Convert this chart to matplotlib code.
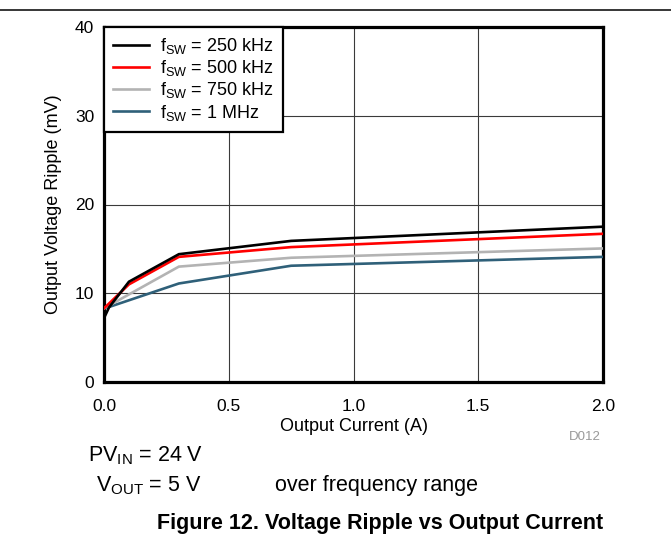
import matplotlib
matplotlib.use("Agg")
import matplotlib.pyplot as plt
from matplotlib.lines import Line2D

plt.rcParams['font.family'] = ['Liberation Sans', 'DejaVu Sans']

# ---- data ----
x_250 = [0.0, 0.02, 0.1, 0.3, 0.75, 2.0]
y_250 = [7.2, 8.4, 11.3, 14.4, 15.9, 17.5]
x_500 = [0.0, 0.1, 0.3, 0.75, 2.0]
y_500 = [8.3, 11.0, 14.1, 15.2, 16.7]
x_750 = [0.0, 0.3, 0.75, 2.0]
y_750 = [8.3, 13.0, 14.0, 15.05]
x_1m = [0.0, 0.02, 0.3, 0.75, 2.0]
y_1m = [8.3, 8.45, 11.1, 13.1, 14.1]

labels = [r'f$_{\mathregular{SW}}$ = 250 kHz', r'f$_{\mathregular{SW}}$ = 500 kHz',
          r'f$_{\mathregular{SW}}$ = 750 kHz', r'f$_{\mathregular{SW}}$ = 1 MHz']
colors = ['#000000', '#ff0000', '#b3b3b3', '#2f6079']
x_ticks = [0.0, 0.5, 1.0, 1.5, 2.0]
x_ticklabels = ['0.0', '0.5', '1.0', '1.5', '2.0']
y_ticks = [0, 10, 20, 30, 40]

fig = plt.figure(figsize=(6.71, 5.46), dpi=100)
ax = fig.add_axes([104/671, 1-382/546, (603-104)/671, (382-27)/546])

series = [(x_250, y_250), (x_500, y_500), (x_750, y_750), (x_1m, y_1m)]
for i in [3, 2, 1, 0]:
    xs, ys = series[i]
    ax.plot(xs, ys, color=colors[i], lw=1.9, solid_joinstyle='miter', zorder=3 + (3 - i))

ax.set_xlim(0, 2.0)
ax.set_ylim(0, 40)
ax.set_xticks(x_ticks)
ax.set_xticklabels(x_ticklabels)
ax.set_yticks(y_ticks)
ax.tick_params(length=0, labelsize=12.5, colors='black')
ax.tick_params(axis='x', pad=12)
ax.tick_params(axis='y', pad=7)
ax.grid(True, color='#3a3a3a', lw=0.8)
ax.set_axisbelow(True)
for s in ax.spines.values():
    s.set_linewidth(2.3)
    s.set_color('black')

ax.set_xlabel('Output Current (A)', fontsize=13, labelpad=3)
ax.set_ylabel('Output Voltage Ripple (mV)', fontsize=13, labelpad=9)

handles = [Line2D([], [], color=c, lw=1.9) for c in colors]
leg = ax.legend(handles, labels, loc='upper left', bbox_to_anchor=(0, 1),
                borderaxespad=0, fancybox=False, framealpha=1, edgecolor='black',
                fontsize=13, handlelength=2.0, handletextpad=0.6,
                labelspacing=0.12, borderpad=0.5)
leg.get_frame().set_linewidth(1.6)
leg.set_zorder(10)

# figure texts
fig.text(601/671, 1-437/546, 'D012', color='#9a9a9a', fontsize=9.5, ha='right', va='center')
fig.text(88/671, 1-456/546, r'PV$_{\mathregular{IN}}$ = 24 V', fontsize=15.5, ha='left', va='center')
fig.text(96/671, 1-486/546, r'V$_{\mathregular{OUT}}$ = 5 V', fontsize=15.5, ha='left', va='center')
fig.text(275/671, 1-486/546, 'over frequency range', fontsize=15.5, ha='left', va='center')
fig.text(380/671, 1-523/546, 'Figure 12. Voltage Ripple vs Output Current', fontsize=15.5,
         fontweight='bold', ha='center', va='center')

fig.add_artist(Line2D([0, 1], [1-10/546, 1-10/546], color='black', lw=1.1,
                      transform=fig.transFigure))

fig.savefig('out.png', dpi=100)
